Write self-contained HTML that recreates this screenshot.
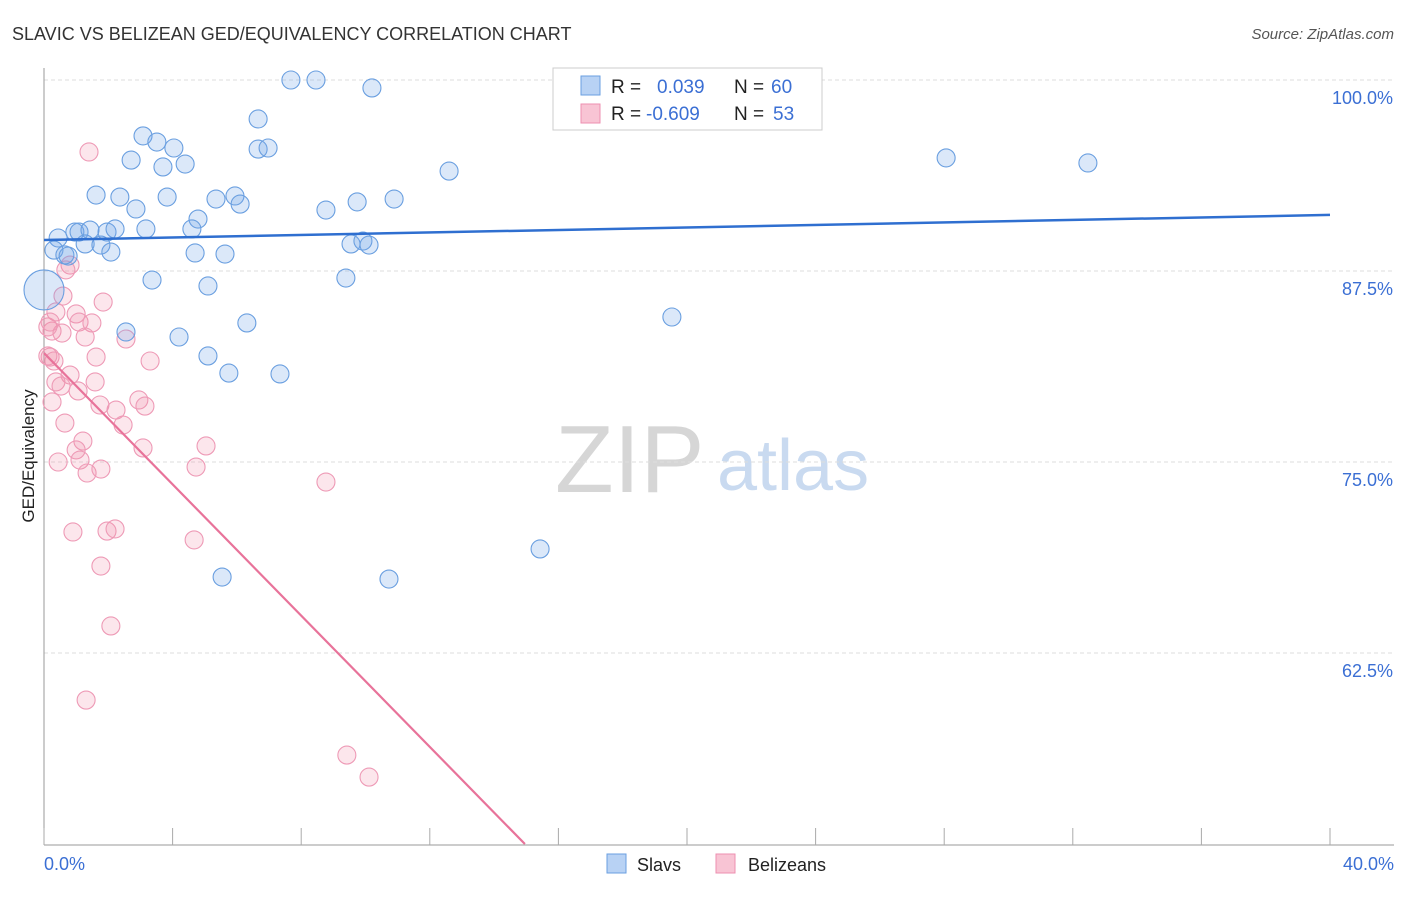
<!DOCTYPE html>
<html><head><meta charset="utf-8"><style>
body{margin:0;background:#fff;font-family:"Liberation Sans",sans-serif;}
svg text{font-family:"Liberation Sans",sans-serif;}
</style></head><body>
<svg id="chart" width="1406" height="892" xmlns="http://www.w3.org/2000/svg">
<text x="12" y="40" font-size="18" fill="#333">SLAVIC VS BELIZEAN GED/EQUIVALENCY CORRELATION CHART</text>
<text x="1394" y="39" font-size="15" fill="#555" text-anchor="end" font-style="italic">Source: ZipAtlas.com</text>
<g>
<text x="555" y="492" font-size="96" fill="#d6d6d6" font-family="Liberation Serif, serif">ZIP</text>
<text x="717" y="490" font-size="72" fill="#c9daf0">atlas</text>
</g>
<g id="grid"></g>
<line x1="44" y1="68" x2="44" y2="845" stroke="#999" stroke-width="1"/>
<line x1="44" y1="845" x2="1394" y2="845" stroke="#999" stroke-width="1"/>
<g id="xticks"></g>
<text transform="translate(34,456) rotate(-90)" font-size="17" fill="#222" text-anchor="middle">GED/Equivalency</text>
<text x="44" y="870" font-size="18" fill="#3b6fd4">0.0%</text>
<text x="1394" y="870" font-size="18" fill="#3b6fd4" text-anchor="end">40.0%</text>
<g id="points"></g>
<g id="lines"></g>
<g>
<rect x="553" y="68" width="269" height="62" fill="#fff" stroke="#ccc"/>
<rect x="581" y="76" width="19" height="19" fill="#b8d2f4" stroke="#6a9fe0"/>
<rect x="581" y="104" width="19" height="19" fill="#f8c4d4" stroke="#ee8fb0"/>
<text x="611" y="93" font-size="19" fill="#222">R =</text>
<text x="657" y="93" font-size="19" fill="#3b6fd4">0.039</text>
<text x="734" y="93" font-size="19" fill="#222">N =</text>
<text x="771" y="93" font-size="19" fill="#3b6fd4">60</text>
<text x="611" y="120" font-size="19" fill="#222">R =</text>
<text x="646" y="120" font-size="19" fill="#3b6fd4">-0.609</text>
<text x="734" y="120" font-size="19" fill="#222">N =</text>
<text x="773" y="120" font-size="19" fill="#3b6fd4">53</text>
</g>
<g>
<rect x="607" y="854" width="19" height="19" fill="#b8d2f4" stroke="#6a9fe0"/>
<text x="637" y="871" font-size="18" fill="#222">Slavs</text>
<rect x="716" y="854" width="19" height="19" fill="#f8c4d4" stroke="#ee8fb0"/>
<text x="748" y="871" font-size="18" fill="#222">Belizeans</text>
</g>
</svg>
<script>
const yTicks=[100,87.5,75,62.5];
const yTickLabels=["100.0%","87.5%","75.0%","62.5%"];
const xTicks=[0,4,8,12,16,20,24,28,32,36,40];
const slavX=[7.68,8.46,10.20,6.66,3.08,3.51,4.04,2.71,3.70,4.39,6.66,6.97,12.60,28.06,32.47,1.62,2.36,3.83,5.35,5.94,6.10,2.86,8.77,9.74,10.89,4.79,3.17,4.60,0.96,1.09,1.43,1.96,2.21,0.44,1.28,1.77,0.31,0.65,0.75,2.08,4.70,5.63,9.55,9.92,10.11,3.36,5.10,9.39,0,6.31,2.55,4.20,19.53,5.10,5.75,7.34,15.43,5.54,10.73];
const slavY=[100,100,99.48,97.45,96.34,95.94,95.55,94.76,94.31,94.50,95.48,95.55,94.04,94.90,94.57,92.47,92.34,92.34,92.21,92.41,91.88,91.56,91.49,92.02,92.21,90.90,90.25,90.25,90.05,90.05,90.18,90.05,90.25,89.66,89.27,89.20,88.87,88.55,88.48,88.74,88.68,88.61,89.27,89.46,89.20,86.91,86.52,87.04,86.26,84.10,83.51,83.18,84.49,81.94,80.82,80.76,69.31,67.47,67.34];
const slavR=[9,9,9,9,9,9,9,9,9,9,9,9,9,9,9,9,9,9,9,9,9,9,9,9,9,9,9,9,9,9,9,9,9,9,9,9,9,9,9,9,9,9,9,9,9,9,9,9,20,9,9,9,9,9,9,9,9,9,9];
const belX=[1.40,0.81,0.68,1.84,0.37,0.59,1.00,1.09,1.49,0.25,0.56,0.12,1.28,2.55,1.62,0.19,0.31,3.30,0.81,0.37,1.59,0.53,1.06,0.25,1.74,2.24,2.95,3.14,0.65,2.46,1.21,1.00,3.08,5.04,0.44,1.12,1.34,1.77,4.73,8.77,0.90,1.96,2.21,4.67,1.77,2.08,1.31,9.42,10.11,0.19,0.12];
const belY=[95.29,87.89,87.57,85.47,84.82,85.86,84.69,84.16,84.10,83.57,83.44,83.84,83.18,83.05,81.87,81.87,81.61,81.61,80.69,80.24,80.24,79.97,79.65,78.93,78.73,78.40,79.06,78.66,77.55,77.42,76.37,75.79,75.92,76.05,75.00,75.13,74.28,74.54,74.67,73.69,70.42,70.48,70.62,69.90,68.19,64.27,59.42,55.82,54.38,84.16,81.94];
const trendIntercepts=[89.53,82.13];
const trendSlopes=[0.041,-2.148];

const X=v=>44+v*(1286/40);
const Y=v=>80+(100-v)*(191/12.5);
const NS="http://www.w3.org/2000/svg";
function mk(t,attrs,parent){const e=document.createElementNS(NS,t);for(const k in attrs)e.setAttribute(k,attrs[k]);parent.appendChild(e);return e;}
const grid=document.getElementById('grid');
yTicks.forEach((v,i)=>{
 const l=mk('line',{x1:44,x2:1394,y1:Y(v),y2:Y(v),stroke:'#ddd','stroke-dasharray':'4,3'},grid);
 
 
 const t=mk('text',{x:1393,y:Y(v)+24,'font-size':18,fill:'#3b6fd4','text-anchor':'end'},grid);
 t.textContent=yTickLabels[i];
 
 
});
const xt=document.getElementById('xticks');
xTicks.forEach(v=>{
 const l=mk('line',{x1:X(v),x2:X(v),y1:828,y2:845,stroke:'#aaa'},xt);
 
 
});
const pts=document.getElementById('points');
belX.forEach((v,i)=>{
 const c=mk('circle',{cx:X(v),cy:Y(belY[i]),r:9,fill:'rgba(240,140,170,0.22)',stroke:'#ee9ab6','stroke-width':1.1},pts);
 
 
});
slavX.forEach((v,i)=>{
 const c=mk('circle',{cx:X(v),cy:Y(slavY[i]),r:slavR[i],fill:'rgba(110,165,230,0.25)',stroke:'#6a9fe0','stroke-width':1.1},pts);
 
 
});
const ln=document.getElementById('lines');
const b1=mk('line',{x1:X(0),y1:Y(trendIntercepts[0]),x2:X(40),y2:Y(trendIntercepts[0]+trendSlopes[0]*40),stroke:'#2f6fd0','stroke-width':2.5},ln);


const xEnd=(50-trendIntercepts[1])/trendSlopes[1];
const p1=mk('line',{x1:X(0),y1:Y(trendIntercepts[1]),x2:X(xEnd),y2:Y(50),stroke:'#e8739a','stroke-width':2.2},ln);


</script>
</body></html>
